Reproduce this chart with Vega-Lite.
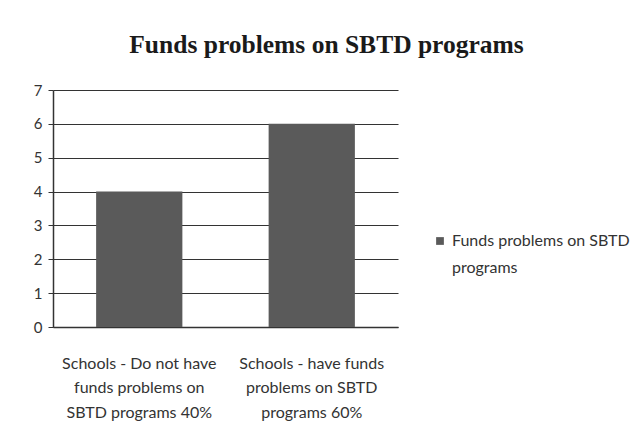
{
  "$schema": "https://vega.github.io/schema/vega-lite/v6.json",
  "width": 345,
  "height": 237,
  "autosize": {"type": "none"},
  "padding": {"left": 53, "top": 90, "right": 238, "bottom": 114},
  "background": "white",
  "title": {
    "text": "Funds problems on SBTD programs",
    "font": "Liberation Serif",
    "fontSize": 25.5,
    "fontWeight": "bold",
    "color": "#1a1a1a",
    "anchor": "middle",
    "dx": 101,
    "offset": 25
  },
  "data": {
    "values": [
      {"category": "Schools - Do not have funds problems on SBTD programs 40%", "series": "Funds problems on SBTD programs", "value": 4},
      {"category": "Schools - have funds problems on SBTD programs 60%", "series": "Funds problems on SBTD programs", "value": 6}
    ]
  },
  "mark": {"type": "bar", "color": "#5a5a5a"},
  "encoding": {
    "x": {
      "field": "category",
      "type": "nominal",
      "sort": null,
      "scale": {"paddingInner": 0.5, "paddingOuter": 0.25},
      "axis": {
        "title": null,
        "labelAngle": 0,
        "labelFont": "Lato",
        "labelFontSize": 16,
        "labelColor": "#333333",
        "labelLineHeight": 24.5,
        "labelPadding": 28,
        "labelExpr": "datum.value == 'Schools - Do not have funds problems on SBTD programs 40%' ? ['Schools - Do not have', 'funds problems on', 'SBTD programs 40%'] : ['Schools - have funds', 'problems on SBTD', 'programs 60%']",
        "ticks": false,
        "domainColor": "#333333",
        "domainWidth": 1.5,
        "labelLimit": 0
      }
    },
    "y": {
      "field": "value",
      "type": "quantitative",
      "scale": {"domain": [0, 7]},
      "axis": {
        "title": null,
        "values": [0, 1, 2, 3, 4, 5, 6, 7],
        "labelOverlap": false,
        "labelFont": "Lato",
        "labelFontSize": 15,
        "labelColor": "#333333",
        "labelPadding": 6,
        "tickSize": 5,
        "tickColor": "#333333",
        "domainColor": "#333333",
        "domainWidth": 1.5,
        "grid": true,
        "gridColor": "#333333",
        "gridWidth": 1.2
      }
    },
    "fill": {
      "field": "series",
      "type": "nominal",
      "scale": {"range": ["#5a5a5a"]},
      "legend": {
        "title": null,
        "orient": "none",
        "legendX": 379,
        "legendY": 143,
        "symbolType": "square",
        "symbolSize": 60,
        "labelFont": "Lato",
        "labelFontSize": 16,
        "labelColor": "#333333",
        "labelLimit": 0,
        "labelExpr": "['Funds problems on SBTD', 'programs']"
      }
    }
  },
  "config": {
    "view": {"stroke": null},
    "style": {"guide-label": {"lineHeight": 27}}
  }
}
